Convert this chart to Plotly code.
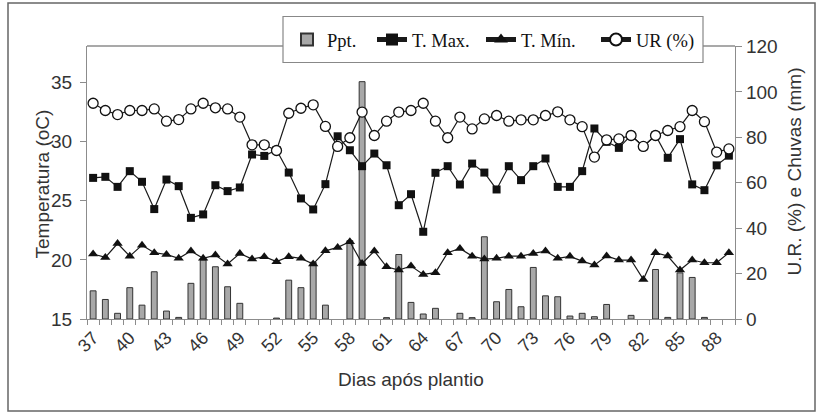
import plotly.graph_objects as go

days = list(range(37, 90))

ppt = [12.4, 8.6, 2.5, 13.8, 6.1, 20.8, 3.5, 0.7, 15.7, 26.0, 23.0, 14.2, 6.9,
       None, None, 0.4, 17.1, 13.8, 25.0, 6.1, None, 34.5, 104.5, None, 0.6, 28.4,
       7.3, 2.2, 4.7, None, 2.5, 0.6, 36.2, 7.6, 13.0, 5.4, 22.7, 10.2, 9.8, 1.3,
       2.5, 1.0, 6.4, None, 1.6, None, 21.8, 0.7, 20.3, 18.3, 0.7, None, None]

t_max = [26.94, 27.03, 26.18, 27.51, 26.61, 24.30, 26.80, 26.24, 23.56, 23.85, 26.32,
         25.82, 26.13, 28.92, 28.80, 29.3, 27.39, 25.2, 24.27, 26.41, 30.46, 29.28,
         27.93, 29.0, 28.01, 24.63, 25.56, 22.38, 27.37, 27.93, 26.38, 28.15, 27.39,
         25.96, 27.93, 26.75, 27.93, 28.58, 26.18, 26.18, 27.51, 31.12, 29.99, 29.48,
         30.55, 29.6, 30.55, 28.64, 30.22, 26.39, 25.9, 28.0, 28.82]

t_min = [20.5, 20.21, 21.39, 20.32, 21.25, 20.61, 20.46, 20.13, 20.75, 20.13, 20.41,
         19.65, 20.55, 20.07, 20.27, 19.85, 20.27, 20.13, 19.65, 20.77, 21.06, 21.54,
         19.70, 20.75, 19.42, 19.14, 19.48, 18.77, 18.92, 20.61, 20.97, 20.32, 20.07,
         20.13, 20.32, 20.32, 20.55, 20.75, 20.13, 20.3, 19.9, 19.56, 20.33, 19.99,
         19.99, 18.35, 20.61, 20.33, 19.14, 19.99, 19.76, 19.76, 20.61]

ur = [95.0, 91.8, 90.0, 91.8, 91.8, 92.5, 87.1, 87.8, 92.5, 95.0, 93.0, 92.5, 88.9,
      76.7, 76.7, 74.2, 90.6, 92.8, 94.3, 84.8, 76.0, 79.8, 91.1, 80.8, 87.1, 91.1,
      91.8, 95.0, 87.1, 79.8, 88.9, 83.7, 88.1, 89.6, 87.1, 87.7, 87.7, 89.6, 91.2,
      87.7, 84.7, 71.3, 78.9, 79.3, 80.8, 76.0, 80.8, 83.0, 84.7, 91.8, 86.9, 73.5, 74.9]

x_ticks = list(range(37, 89, 3))
left_ticks = [15, 20, 25, 30, 35]
right_ticks = [0, 20, 40, 60, 80, 100, 120]

SANS = "Liberation Sans, Arial, sans-serif"
SERIF = "Liberation Serif, Times New Roman, serif"
LINE = "#1a1a1a"
AX = "#8c8c8c"
TXT = "#333333"

fig = go.Figure()

fig.add_trace(go.Bar(
    x=days, y=ppt, name="Ppt.", yaxis="y", width=0.48, legend="legend",
    marker=dict(color="#a8a8a8", line=dict(color="#333333", width=1)),
))
fig.add_trace(go.Scatter(
    x=days, y=t_max, name="T. Max.", yaxis="y2", mode="lines+markers", legend="legend2",
    line=dict(color=LINE, width=1.2),
    marker=dict(symbol="square", size=8, color="#111111"),
))
fig.add_trace(go.Scatter(
    x=days, y=t_min, name="T. Mín.", yaxis="y2", mode="lines+markers", legend="legend3",
    line=dict(color=LINE, width=1.2),
    marker=dict(symbol="triangle-up", size=9, color="#111111"),
))
fig.add_trace(go.Scatter(
    x=days, y=ur, name="UR (%)", yaxis="y3", mode="lines+markers", legend="legend4",
    line=dict(color=LINE, width=1.2),
    marker=dict(symbol="circle", size=10, color="white",
                line=dict(color="#111111", width=1.3)),
))

L, R, T, B = 87, 88, 46, 95
pw = 823 - L - R
ph = 414 - T - B

def px(xp):
    return (xp - L) / pw

def py(yp):
    return (414 - B - yp) / ph

def leg(xpix):
    return dict(
        orientation="h", x=px(xpix), y=py(40), xanchor="left", yanchor="middle",
        bgcolor="rgba(0,0,0,0)", borderwidth=0,
        font=dict(family=SERIF, size=18.5, color="#111111"),
        itemsizing="constant",
    )

fig.update_layout(
    width=823, height=414,
    margin=dict(l=L, r=R, t=T, b=B, autoexpand=False),
    paper_bgcolor="white", plot_bgcolor="white",
    showlegend=True,
    legend=leg(287), legend2=leg(372), legend3=leg(481), legend4=leg(596),
    xaxis=dict(
        range=[36.5, 89.5], tickmode="array", tickvals=x_ticks,
        ticktext=[str(v) for v in x_ticks], tickangle=-45,
        ticks="", showgrid=False, zeroline=False,
        showline=True, linecolor=AX, linewidth=1.3,
        tickfont=dict(family=SANS, size=18, color=TXT),
        minor=dict(tick0=36.5, dtick=1, ticks="outside", ticklen=5,
                   tickcolor=AX, showgrid=False),
    ),
    yaxis=dict(
        side="right", range=[0, 120.2], tickmode="array", tickvals=right_ticks,
        ticks="outside", ticklen=6, tickcolor=AX, showgrid=False, zeroline=False,
        showline=True, linecolor=AX, linewidth=1.3,
        tickfont=dict(family=SANS, size=19, color=TXT),
    ),
    yaxis2=dict(
        overlaying="y", side="left", range=[15, 38.1], tickmode="array",
        tickvals=left_ticks, ticks="outside", ticklen=6, tickcolor=AX,
        showgrid=False, zeroline=False, showline=True, linecolor=AX, linewidth=1.3,
        ticklabelstandoff=4,
        tickfont=dict(family=SANS, size=19, color=TXT),
    ),
    yaxis3=dict(
        overlaying="y", side="right", range=[0, 120.2], visible=False,
        showgrid=False, zeroline=False,
    ),
    shapes=[
        dict(type="line", xref="paper", yref="paper", x0=0, x1=1, y0=1, y1=1,
             line=dict(color=AX, width=1.3), layer="below"),
        dict(type="rect", xref="paper", yref="paper",
             x0=px(283), x1=px(703), y0=py(62.5), y1=py(16.5),
             fillcolor="white", line=dict(color="#888888", width=1.2), layer="above"),
        dict(type="rect", xref="paper", yref="paper",
             x0=px(8), x1=px(815), y0=py(411), y1=py(3),
             line=dict(color="#666666", width=1.5), fillcolor="rgba(0,0,0,0)"),
    ],
    annotations=[
        dict(text="Temperatura (oC)", xref="paper", yref="paper",
             x=px(29), y=py(184), textangle=-90, showarrow=False,
             font=dict(family=SANS, size=19, color=TXT)),
        dict(text="U.R. (%) e Chuvas (mm)", xref="paper", yref="paper",
             x=px(806), y=py(172), textangle=-90, showarrow=False,
             font=dict(family=SANS, size=19, color=TXT)),
        dict(text="Dias após plantio", xref="paper", yref="paper",
             x=0.5, y=py(392), showarrow=False,
             font=dict(family=SANS, size=19, color=TXT)),
    ],
)

fig.write_html(
    "out.html",
    config={"displayModeBar": False},
    post_script="document.body.style.margin='0';document.body.style.padding='0';",
)
